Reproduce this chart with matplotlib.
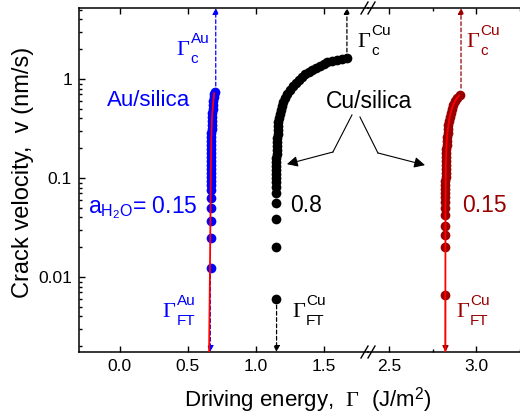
import matplotlib
matplotlib.use("Agg")
import matplotlib.pyplot as plt
from matplotlib.ticker import LogLocator, NullFormatter
from matplotlib.lines import Line2D

plt.rcParams["font.family"] = ["Liberation Sans", "DejaVu Sans"]
plt.rcParams["mathtext.fontset"] = "custom"
plt.rcParams["mathtext.rm"] = "Liberation Serif"
plt.rcParams["mathtext.sf"] = "Liberation Sans"
plt.rcParams["mathtext.it"] = "Liberation Serif:italic"
plt.rcParams["mathtext.bf"] = "Liberation Serif:bold"

# ── data ──────────────────────────────────────────────
# Au/silica, a_H2O = 0.15
au_gamma = [0.668, 0.668, 0.668, 0.668, 0.668, 0.668, 0.668, 0.668, 0.668,
            0.669, 0.669, 0.669, 0.669, 0.669, 0.670, 0.670, 0.670, 0.671,
            0.672, 0.673, 0.674, 0.675, 0.677, 0.679, 0.680, 0.682, 0.684,
            0.687, 0.690, 0.693, 0.696]
au_v = [0.0123, 0.0248, 0.0368, 0.0498, 0.0628, 0.0757, 0.0850, 0.0933, 0.102,
        0.112, 0.123, 0.135, 0.149, 0.163, 0.179, 0.196, 0.216, 0.237, 0.260,
        0.285, 0.313, 0.343, 0.377, 0.413, 0.453, 0.497, 0.546, 0.599, 0.658,
        0.705, 0.739]
au_fit_gamma = [0.656, 0.662, 0.666, 0.669, 0.672, 0.678, 0.686, 0.694]
au_fit_v = [0.00175, 0.01, 0.04, 0.12, 0.25, 0.42, 0.58, 0.72]

# Cu/silica, a_H2O = 0.8
cu08_gamma = [1.145, 1.145, 1.145, 1.145, 1.145, 1.145, 1.146, 1.147, 1.147,
              1.148, 1.149, 1.150, 1.151, 1.152, 1.153, 1.154, 1.156, 1.157,
              1.159, 1.161, 1.163, 1.166, 1.169, 1.176, 1.184, 1.191, 1.199,
              1.214, 1.228, 1.250, 1.272, 1.294, 1.316, 1.338, 1.360, 1.390,
              1.412, 1.441, 1.471, 1.500, 1.522, 1.559, 1.596, 1.632, 1.669]
cu08_v = [0.0060, 0.0201, 0.0385, 0.0559, 0.0705, 0.0811, 0.0911, 0.100, 0.110,
          0.120, 0.132, 0.145, 0.159, 0.175, 0.192, 0.211, 0.231, 0.254, 0.278,
          0.305, 0.335, 0.368, 0.404, 0.443, 0.486, 0.534, 0.586, 0.643, 0.705,
          0.774, 0.850, 0.911, 0.977, 1.048, 1.123, 1.177, 1.233, 1.291, 1.353,
          1.418, 1.485, 1.520, 1.556, 1.593, 1.630]

# Cu/silica, a_H2O = 0.15
cu15_gamma = [2.823, 2.823, 2.823, 2.823, 2.823, 2.823, 2.823, 2.823,
              2.823, 2.823, 2.823, 2.823, 2.824, 2.824, 2.824, 2.825, 2.825,
              2.826, 2.827, 2.828, 2.830, 2.831, 2.833, 2.835, 2.837,
              2.840, 2.844, 2.849, 2.854, 2.860, 2.867, 2.875, 2.888, 2.905]
cu15_v = [0.00658, 0.0202, 0.0266, 0.0327, 0.0423, 0.0498, 0.0573, 0.0643,
          0.0705, 0.0774, 0.0850, 0.0933, 0.102, 0.112, 0.123, 0.135, 0.149,
          0.163, 0.179, 0.196, 0.216, 0.237, 0.260, 0.285, 0.313, 0.343,
          0.377, 0.413, 0.453, 0.497, 0.546, 0.599, 0.643, 0.689]
cu15_fit_gamma = [2.822, 2.823, 2.825, 2.829, 2.836, 2.848, 2.862, 2.880, 2.900]
cu15_fit_v = [0.00175, 0.05, 0.14, 0.22, 0.31, 0.42, 0.52, 0.61, 0.68]

# critical / fatigue-threshold energies
gc_au, gft_au = 0.705, 0.665
gc_cu08, gft_cu08 = 1.669, 1.152
gc_cu15, gft_cu15 = 2.912, 2.823

BLUE = "#0000ff"
DRED = "#990000"
RED = "#ff0000"

W, H = 520, 416
YMIN, YMAX = 0.00175, 5.21

fig = plt.figure(figsize=(W / 100, H / 100), dpi=100)
ax1 = fig.add_axes([79 / W, 64 / H, 289 / W, 344 / H])
ax2 = fig.add_axes([368 / W, 64 / H, 152 / W, 344 / H], sharey=ax1)
ax2.patch.set_visible(False)

ax1.set_yscale("log")
ax1.set_ylim(YMIN, YMAX)
ax1.set_xlim(-0.3, 1.824)
ax2.set_xlim(2.379, 3.179)

for ax in (ax1, ax2):
    for s in ax.spines.values():
        s.set_linewidth(1.1)
    ax.tick_params(which="both", direction="in", top=True, right=False,
                   width=1.0, labelsize=12.5, pad=5)
    ax.tick_params(which="major", length=4.5)
    ax.tick_params(which="minor", length=2.5)
ax1.spines["right"].set_visible(False)
ax2.spines["left"].set_visible(False)
ax2.spines["right"].set_visible(False)

ax1.set_xticks([0.0, 0.5, 1.0, 1.5])
ax2.set_xticks([2.5, 3.0])
ax2.set_xticks([2.75, 3.25], minor=True)
ax1.set_yticks([0.01, 0.1, 1], labels=["0.01", "0.1", "1"])
ax1.yaxis.set_minor_locator(LogLocator(base=10, subs=range(2, 10)))
ax1.yaxis.set_minor_formatter(NullFormatter())
ax2.tick_params(axis="y", which="both", left=False, labelleft=False)

# ── data series ─────────────────────────────────────
ax1.plot(au_gamma, au_v, "o", color=BLUE, ms=7, mew=0, zorder=3)
ax1.plot(au_fit_gamma, au_fit_v, "-", color=RED, lw=1.3, zorder=4)
ax1.plot(cu08_gamma, cu08_v, "o", color="black", ms=7, mew=0, zorder=3)
ax2.plot(cu15_gamma, cu15_v, "o", color=DRED, ms=7, mew=0, zorder=3)
ax2.plot(cu15_fit_gamma, cu15_fit_v, "-", color=RED, lw=1.3, zorder=4)


def darrow(ax, x, y0, y1, color, ls=(0, (3, 2))):
    ax.annotate("", xy=(x, y1), xytext=(x, y0),
                arrowprops=dict(arrowstyle="-|>", color=color, lw=0.9,
                                linestyle=ls, mutation_scale=9,
                                shrinkA=0, shrinkB=0),
                annotation_clip=False)


darrow(ax1, gc_au, 0.85, YMAX, BLUE)
darrow(ax1, gft_au, 0.0105, YMIN, BLUE)
darrow(ax1, gc_cu08, 1.875, YMAX, "black")
darrow(ax1, gft_cu08, 0.0052, YMIN, "black")
darrow(ax2, gc_cu15, 0.81, YMAX, DRED)
darrow(ax2, gft_cu15, 0.0058, YMIN, DRED, ls="-")


def glabel(ax, x, y, sub, sup, color):
    # serif Gamma with sans sub/superscript, spaced like the original
    ax.annotate("\u0393", (x, y), color=color, fontsize=16,
                family="Liberation Serif", va="baseline",
                annotation_clip=False)
    ax.annotate(sup, (x, y), xytext=(14, 12), textcoords="offset pixels",
                color=color, fontsize=11, va="baseline", annotation_clip=False)
    ax.annotate(sub, (x, y), xytext=(14, -8), textcoords="offset pixels",
                color=color, fontsize=11, va="baseline", annotation_clip=False)


# ── annotations ─────────────────────────────────────
ax1.text(0.213, 0.533, "Au/silica", color=BLUE, fontsize=16,
         ha="center", va="baseline")
ax1.text(1.831, 0.509, "Cu/silica", fontsize=16.5, ha="center", va="baseline")
ax1.text(1.25, 0.0452, "0.8", fontsize=16.5, va="baseline")
ax2.text(2.916, 0.0457, "0.15", color=DRED, fontsize=16.5, va="baseline")
ax1.text(-0.235, 0.0443,
         r"$\mathsf{a}_{\mathsf{H}_{\mathsf{2}}\mathsf{O}}$= 0.15",
         color=BLUE, fontsize=16.5, va="baseline")

glabel(ax1, 0.419, 1.748, "c", "Au", BLUE)
glabel(ax1, 1.743, 2.104, "c", "Cu", "black")
glabel(ax2, 2.942, 2.104, "c", "Cu", DRED)
glabel(ax1, 0.316, 0.00394, "FT", "Au", BLUE)
glabel(ax1, 1.265, 0.00394, "FT", "Cu", "black")
glabel(ax2, 2.884, 0.00394, "FT", "Cu", DRED)

# Cu/silica pointer arrows
ax1.plot([1.706, 1.566], [0.433, 0.183], color="black", lw=0.8, clip_on=False)
ax1.plot([1.765, 1.897], [0.413, 0.179], color="black", lw=0.8, clip_on=False)
for start, end in [((1.566, 0.183), (1.228, 0.138)),
                   ((1.897, 0.179), (2.243, 0.135))]:
    ax1.annotate("", xy=end, xytext=start,
                 arrowprops=dict(arrowstyle="-|>", color="black", lw=0.8,
                                 mutation_scale=16, shrinkA=0, shrinkB=0),
                 annotation_clip=False)

# axis break marks "//"
for yp in (8, 352):
    for xc in (364.5, 371.5):
        fig.add_artist(Line2D([(xc - 3.5) / W, (xc + 3.5) / W],
                              [(H - yp - 6) / H, (H - yp + 6) / H],
                              color="black", lw=1.0,
                              transform=fig.transFigure))

ax1.set_ylabel("Crack velocity,  v (nm/s)", fontsize=17)
ax1.yaxis.set_label_coords(-0.156, 0.523)
ax1.set_xlabel(r"Driving energy,  $\Gamma$  (J/m$^{\mathsf{2}}$)", fontsize=16)
ax1.xaxis.set_label_coords(0.792, -0.096)

fig.savefig("out.png", dpi=100)
plt.close(fig)
